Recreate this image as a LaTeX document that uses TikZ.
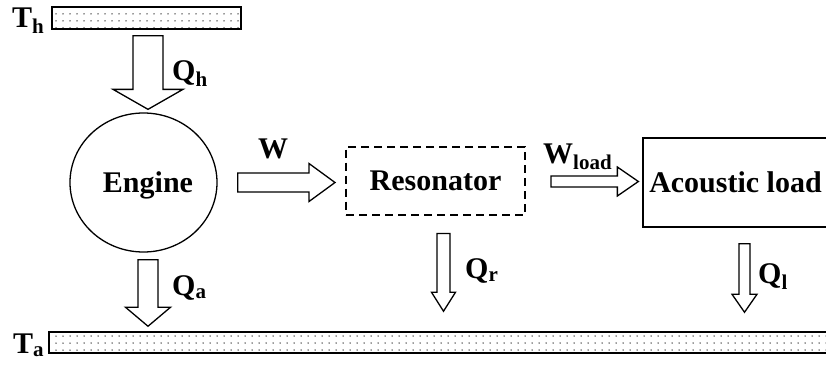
\documentclass[tikz,border=0pt]{standalone}
\usepackage{fontspec}
\setmainfont{Liberation Serif}
\usetikzlibrary{calc,shapes.geometric,patterns.meta}
\newcommand{\blockarrow}[5]{%
  \coordinate (hb) at ($(#2)!#5!(#1)$);
  \draw[flow] ($(#1)!#3!90:(#2)$) -- ($(hb)!#3!90:(#2)$) -- ($(hb)!#4!90:(#2)$) -- (#2)
    -- ($(hb)!#4!-90:(#2)$) -- ($(hb)!#3!-90:(#2)$) -- ($(#1)!#3!-90:(#2)$) -- cycle;}
\tikzset{
  reservoir/.style={draw,line width=1.5pt,pattern={Dots[distance=7pt,radius=0.75pt]},
    pattern color=black!80,minimum height=22pt,inner sep=0pt},
  flow/.style={draw,line width=1.3pt,fill=white},
  lbl/.style={anchor=base west,inner sep=0pt},
}
\begin{document}
\begin{tikzpicture}[x=1pt,y=-1pt,font=\fontsize{30}{35}\selectfont\bfseries]
  \useasboundingbox (0,0) rectangle (826,364);
  \node[reservoir,minimum width=189pt] (hot) at (146.5,18) {};
  \node[reservoir,minimum width=779pt,minimum height=21pt] (cold) at (438.5,342.5) {};
  \node[draw,ellipse,line width=1.3pt,minimum width=147pt,minimum height=139pt,inner sep=0pt]
    (engine) at (143.5,182.5) {};
  \node (engtxt) at ([xshift=4.5pt,yshift=-3pt]engine.center) {Engine};
  \node[draw,dash pattern=on 8pt off 5pt,line width=2pt,minimum width=179pt,minimum height=68pt]
    (reso) at (435.5,180.5) {Resonator};
  \node[draw,line width=1.3pt,minimum width=185pt,minimum height=89pt]
    (load) at (735.5,182.5) {Acoustic load};

  \node[lbl] (th) at (12,27) {T\textsubscript{h}};
  \node[lbl] (ta) at (13,353) {T\textsubscript{a}};

  \coordinate (qh0) at ([xshift=1.5pt,yshift=-6pt]hot.south);
  \coordinate (qh1) at ([yshift=3pt]qh0 |- engine.north);
  \blockarrow{qh0}{qh1}{15pt}{35pt}{20pt}
  \node[lbl] (qh) at (172,80) {Q\textsubscript{h}};

  \coordinate (qa0) at ([xshift=4.5pt,yshift=-7pt]engine.south);
  \coordinate (qa1) at ([yshift=5pt]qa0 |- cold.north);
  \blockarrow{qa0}{qa1}{10pt}{22.5pt}{19pt}
  \node[lbl] (qa) at (172,295) {Q\textsubscript{a}};

  \coordinate (w0) at ([xshift=20pt,yshift=0pt]engine.east);
  \coordinate (w1) at ([xshift=-10pt]reso.west |- w0);
  \blockarrow{w0}{w1}{9.5pt}{19pt}{26pt}
  \node[lbl] (w) at (258,158) {W};

  \coordinate (wl0) at ([xshift=25pt,yshift=-1pt]reso.east);
  \coordinate (wl1) at ([xshift=-4pt]load.west |- wl0);
  \blockarrow{wl0}{wl1}{5.5pt}{14.5pt}{21pt}
  \node[lbl] (wl) at (543,163) {W\textsubscript{load}};

  \coordinate (qr0) at ([xshift=8pt,yshift=-18pt]reso.south);
  \coordinate (qr1) at ([yshift=20pt]qr0 |- cold.north);
  \blockarrow{qr0}{qr1}{6.5pt}{12pt}{19pt}
  \node[lbl] (qr) at (465,278) {Q\textsubscript{r}};

  \coordinate (ql0) at ([xshift=9pt,yshift=-16pt]load.south);
  \coordinate (ql1) at ([yshift=19pt]ql0 |- cold.north);
  \blockarrow{ql0}{ql1}{5.5pt}{12.5pt}{18pt}
  \node[lbl] (ql) at (758,283) {Q\textsubscript{l}};
\end{tikzpicture}
\end{document}
